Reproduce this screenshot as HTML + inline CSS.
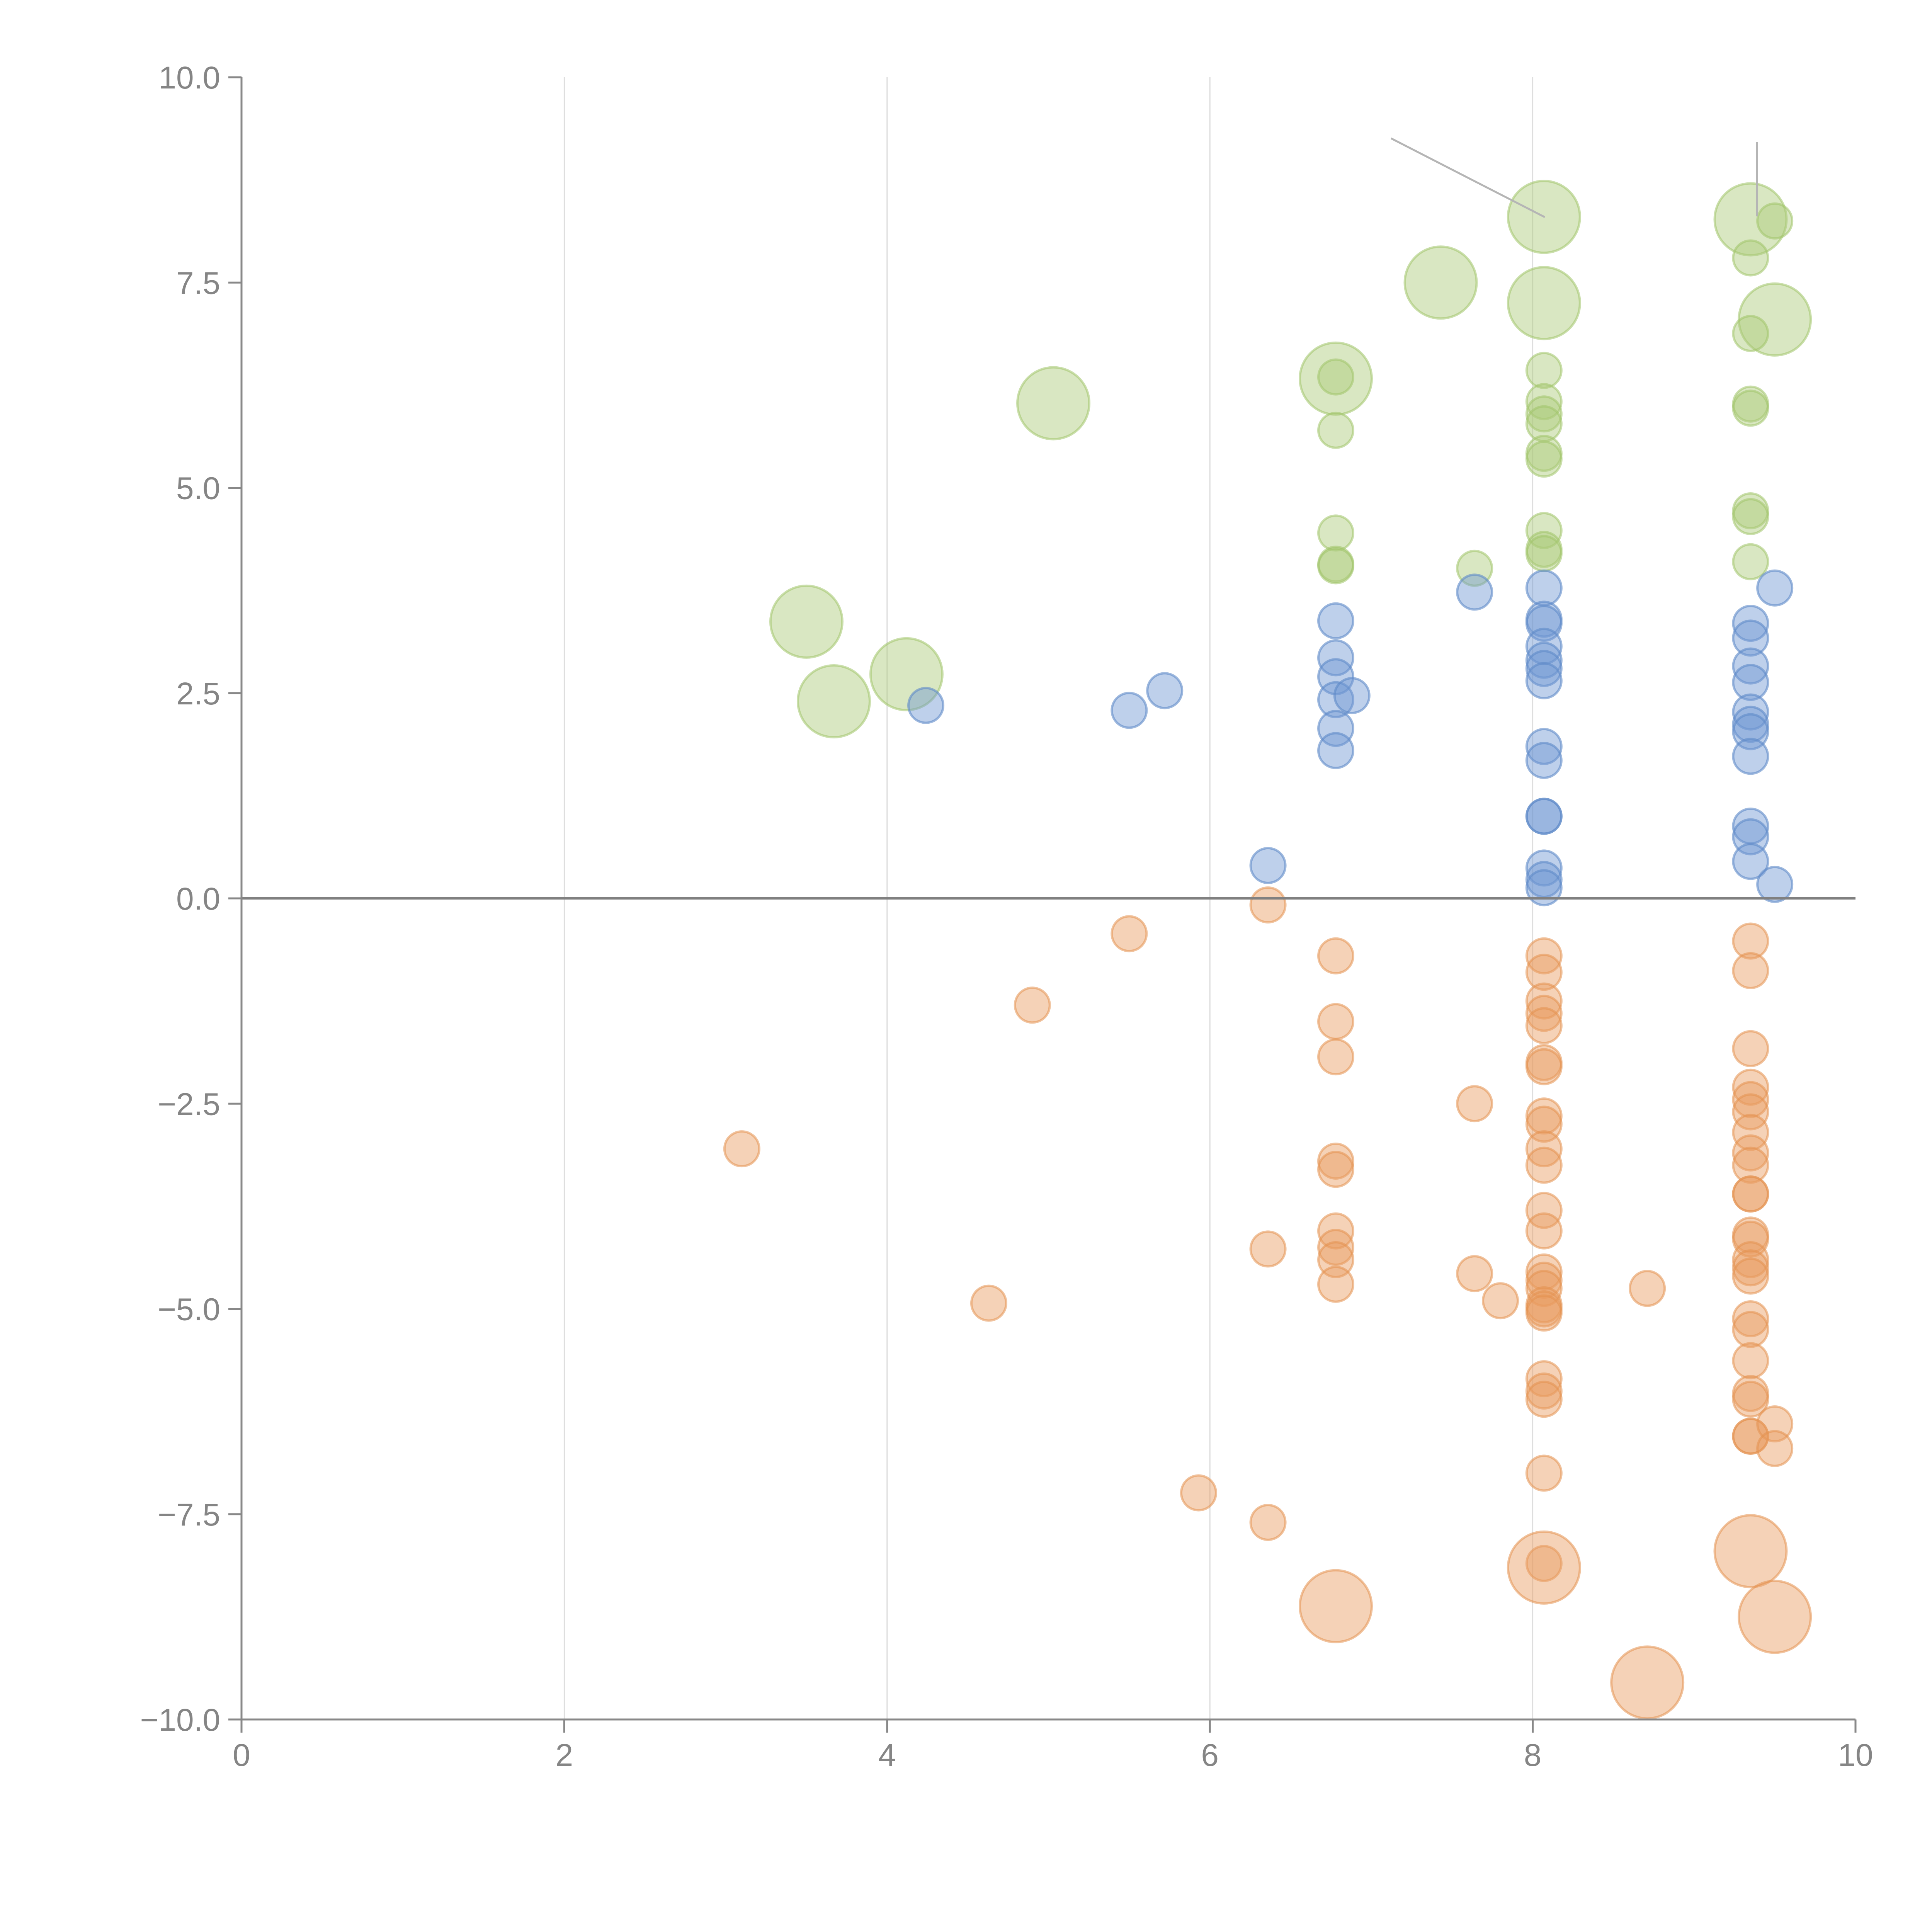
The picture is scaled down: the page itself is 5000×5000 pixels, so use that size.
<!DOCTYPE html>
<html><head><meta charset="utf-8"><style>html,body{margin:0;padding:0;background:#fff}svg{display:block}</style></head>
<body>
<svg id="chart" width="5000" height="5000" viewBox="0 0 5000 5000" xmlns="http://www.w3.org/2000/svg">
<g id="grid"></g>
<g id="marks"></g>
<g id="axes"></g>
</svg>
<script>
const xTicks = [0, 2, 4, 6, 8, 10];
const yTicks = [10, 7.5, 5, 2.5, 0, -2.5, -5, -7.5, -10];
const yTickLabels = ["10.0", "7.5", "5.0", "2.5", "0.0", "\u22122.5", "\u22125.0", "\u22127.5", "\u221210.0"];
const greenBigX = [3.5, 3.67, 4.12, 5.03, 6.78, 7.43, 8.07, 8.07, 9.35, 9.5];
const greenBigY = [3.37, 2.4, 2.73, 6.03, 6.33, 7.5, 8.3, 7.25, 8.27, 7.05];
const greenX = [6.78, 6.78, 6.78, 6.78, 6.78, 7.64, 8.07, 8.07, 8.07, 8.07, 8.07, 8.07, 8.07, 8.07, 8.07, 9.35, 9.35, 9.35, 9.35, 9.35, 9.35, 9.35, 9.5];
const greenY = [6.35, 5.7, 4.45, 4.07, 4.05, 4.02, 6.43, 6.05, 5.9, 5.78, 5.42, 5.35, 4.48, 4.25, 4.2, 7.8, 6.88, 6.02, 5.97, 4.72, 4.65, 4.1, 8.25];
const blueX = [4.24, 5.5, 5.72, 6.36, 6.78, 6.78, 6.78, 6.78, 6.78, 6.78, 6.88, 7.64, 8.07, 8.07, 8.07, 8.07, 8.07, 8.07, 8.07, 8.07, 8.07, 8.07, 8.07, 8.07, 8.07, 8.07, 9.35, 9.35, 9.35, 9.35, 9.35, 9.35, 9.35, 9.35, 9.35, 9.35, 9.35, 9.5, 9.5];
const blueY = [2.35, 2.29, 2.53, 0.4, 3.38, 2.93, 2.7, 2.42, 2.07, 1.8, 2.47, 3.73, 3.78, 3.4, 3.35, 3.07, 2.9, 2.8, 2.65, 1.85, 1.68, 1.0, 1.0, 0.37, 0.23, 0.13, 3.35, 3.17, 2.83, 2.63, 2.27, 2.12, 2.03, 1.73, 0.88, 0.75, 0.45, 3.78, 0.17];
const orangeX = [3.1, 4.63, 4.9, 5.5, 5.93, 6.36, 6.36, 6.36, 6.78, 6.78, 6.78, 6.78, 6.78, 6.78, 6.78, 6.78, 6.78, 7.64, 7.64, 7.8, 8.71,
 8.07, 8.07, 8.07, 8.07, 8.07, 8.07, 8.07, 8.07, 8.07, 8.07, 8.07, 8.07, 8.07, 8.07, 8.07, 8.07, 8.07, 8.07, 8.07, 8.07, 8.07, 8.07, 8.07, 8.07,
 9.35, 9.35, 9.35, 9.35, 9.35, 9.35, 9.35, 9.35, 9.35, 9.35, 9.35, 9.35, 9.35, 9.35, 9.35, 9.35, 9.35, 9.35, 9.35, 9.35, 9.35, 9.35, 9.35, 9.5, 9.5];
const orangeY = [-3.05, -4.93, -1.3, -0.43, -7.24, -0.08, -4.27, -7.6, -0.7, -1.5, -1.93, -3.2, -3.3, -4.05, -4.25, -4.4, -4.7, -2.5, -4.57, -4.9, -4.75,
 -0.7, -0.9, -1.25, -1.4, -1.55, -2.0, -2.05, -2.65, -2.75, -3.05, -3.25, -3.8, -4.05, -4.55, -4.65, -4.75, -4.95, -5.0, -5.05, -5.85, -6.0, -6.1, -7.0, -8.1,
 -0.52, -0.88, -1.83, -2.3, -2.45, -2.6, -2.85, -3.1, -3.25, -3.6, -3.6, -4.1, -4.15, -4.4, -4.5, -4.6, -5.12, -5.25, -5.63, -6.03, -6.1, -6.55, -6.55, -6.4, -6.7];
const orangeBigX = [6.78, 8.07, 8.71, 9.35, 9.5];
const orangeBigY = [-8.62, -8.15, -9.55, -7.95, -8.75];

const NS = "http://www.w3.org/2000/svg";
const X0 = 625, X1 = 4802, Y0 = 200, Y1 = 4450;
function sx(v) { return X0 + (v - 0) / 10 * (X1 - X0); }
function sy(v) { return Y0 + (10 - v) / 20 * (Y1 - Y0); }
function mk(tag, attrs, parent) {
  const e = document.createElementNS(NS, tag);
  for (const k in attrs) e.setAttribute(k, attrs[k]);
  parent.appendChild(e);
  return e;
}
const grid = document.getElementById("grid"), marks = document.getElementById("marks"), axes = document.getElementById("axes");

xTicks.forEach(t => {
  if (t === 0 || t === 10) return;
  const l = mk("line", {x1: sx(t), x2: sx(t), y1: Y0, y2: Y1, stroke: "#dcdcdc", "stroke-width": 3}, grid);
  
  
});

function drawSeries(xs, ys, r, fill, stroke, name) {
  xs.forEach((x, i) => {
    const c = mk("circle", {cx: sx(x), cy: sy(ys[i]), r: r, fill: fill, stroke: stroke, "stroke-width": 6}, marks);
    
    
  });
}
const G = ["rgba(170,202,120,0.45)", "rgba(160,196,105,0.55)"];
const B = ["rgba(110,150,210,0.45)", "rgba(95,138,200,0.6)"];
const O = ["rgba(232,155,95,0.45)", "rgba(228,145,80,0.55)"];
drawSeries(greenBigX, greenBigY, 93, G[0], G[1], "green-bubble-large");
drawSeries(greenX, greenY, 45, G[0], G[1], "green-bubble");
drawSeries(blueX, blueY, 45, B[0], B[1], "blue-bubble");
drawSeries(orangeX, orangeY, 45, O[0], O[1], "orange-bubble");
drawSeries(orangeBigX, orangeBigY, 93, O[0], O[1], "orange-bubble-large");

let a1 = mk("line", {x1: 3600, y1: 358, x2: 3998, y2: 562, stroke: "#b5b5b5", "stroke-width": 5}, axes);


let a2 = mk("line", {x1: 4547, y1: 368, x2: 4547, y2: 560, stroke: "#b5b5b5", "stroke-width": 5}, axes);



let z = mk("line", {x1: X0, x2: X1, y1: sy(0), y2: sy(0), stroke: "#808080", "stroke-width": 6}, axes);



let ya = mk("line", {x1: X0, x2: X0, y1: Y0, y2: Y1, stroke: "#888", "stroke-width": 5}, axes);


let xa = mk("line", {x1: X0, x2: X1, y1: Y1, y2: Y1, stroke: "#888", "stroke-width": 5}, axes);



xTicks.forEach(t => {
  const tk = mk("line", {x1: sx(t), x2: sx(t), y1: Y1, y2: Y1 + 34, stroke: "#888", "stroke-width": 5}, axes);
  
  
  const tx = mk("text", {x: sx(t), y: Y1 + 120, "text-anchor": "middle", fill: "#858585", "font-size": 82, "font-family": "Liberation Sans, Arial, sans-serif"}, axes);
  tx.textContent = String(t);
  
  
});
yTicks.forEach((t, i) => {
  const tk = mk("line", {x1: X0 - 34, x2: X0, y1: sy(t), y2: sy(t), stroke: "#888", "stroke-width": 5}, axes);
  
  
  const tx = mk("text", {x: X0 - 55, y: sy(t) + 29, "text-anchor": "end", fill: "#858585", "font-size": 82, "font-family": "Liberation Sans, Arial, sans-serif"}, axes);
  tx.textContent = yTickLabels[i];
  
  
});
</script>
</body></html>
